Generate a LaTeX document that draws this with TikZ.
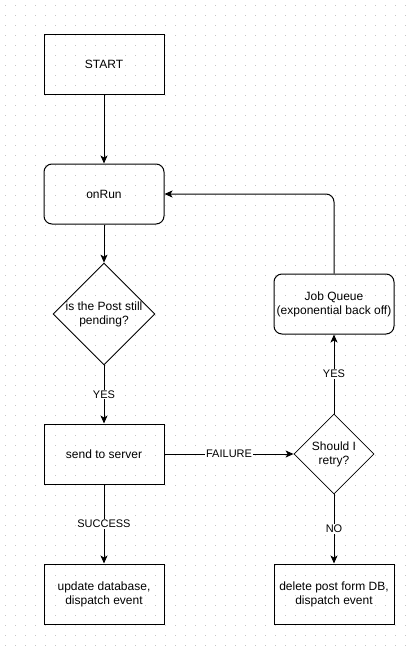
\documentclass[tikz,border=0pt]{standalone}
\usepackage{fontspec}
\setmainfont{Liberation Sans}
\usetikzlibrary{shapes.geometric,arrows.meta}
\begin{document}
\begin{tikzpicture}[x=1pt,y=-1pt,
  box/.style={draw,line width=1pt,minimum width=120pt,minimum height=60pt,align=center,font=\fontsize{12}{14}\selectfont,inner sep=0pt},
  rbox/.style={box,rounded corners=8pt},
  dec/.style={draw,line width=0.8pt,diamond,aspect=1,inner sep=0pt,align=center,font=\fontsize{12}{14}\selectfont},
  conn/.style={line width=1pt,-{Stealth[length=8pt,width=7pt,inset=2pt]}},
  lbl/.style={fill=white,inner sep=1pt,font=\fontsize{11}{13}\selectfont}]
\useasboundingbox (0,0) rectangle (412,646);
\fill[white] (0,0) rectangle (412,646);
\foreach \i in {0,...,40}{\foreach \j in {0,...,64}{
  \fill[black!22] (4.5+10*\i,4.5+10*\j) rectangle ++(1,1);}}
\node[box] (start) at (104,64) {START};
\node[rbox] (onrun) at (104,194) {onRun};
\node[dec,minimum width=100pt,minimum height=100pt] (pend) at (104,314) {is the Post still\\pending?};
\node[box] (send) at (104,454) {send to server};
\node[box] (upd) at (104,594) {update database,\\dispatch event};
\node[dec,minimum width=80pt,minimum height=80pt] (retry) at (334,454) {Should I\\retry?};
\node[rbox] (job) at (334,304) {Job Queue\\(exponential back off)};
\node[box] (del) at (334,594) {delete post form DB,\\dispatch event};
\coordinate (corner) at (334,194);
\draw[conn] (start) -- (onrun);
\draw[conn] (onrun) -- (pend);
\draw[conn] (pend) -- node[lbl,pos=0.5]{YES} (send);
\draw[conn] (send) -- node[lbl,pos=0.5]{SUCCESS} (upd);
\draw[conn] (send) -- node[lbl,pos=0.5]{FAILURE} (retry);
\draw[conn] (retry) -- node[lbl,pos=0.5]{YES} (job);
\draw[conn] (retry) -- node[lbl,pos=0.5]{NO} (del);
\draw[conn,rounded corners=8pt] (job.north) -- (corner) -- (onrun.east);
\end{tikzpicture}
\end{document}
